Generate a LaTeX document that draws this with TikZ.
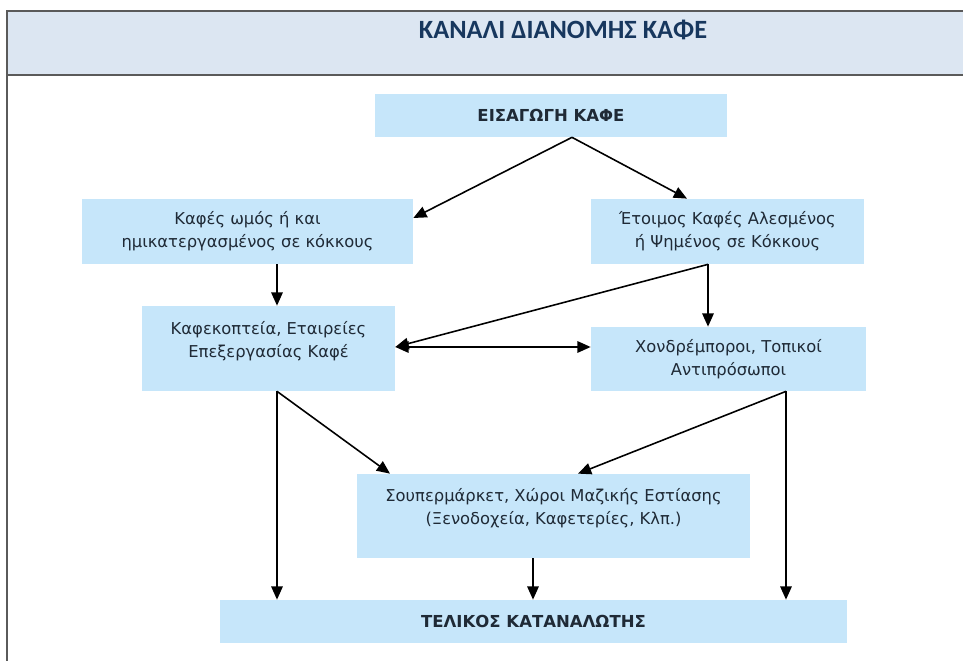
\documentclass[tikz,border=0pt]{standalone}
\usepackage{fontspec}
\setmainfont{DejaVu Sans}
\newfontfamily\titlefont{Carlito}
\usetikzlibrary{arrows.meta}
\definecolor{headblue}{HTML}{DCE6F2}
\definecolor{boxblue}{HTML}{C6E6FA}
\definecolor{titleblue}{HTML}{17375E}
\definecolor{inktext}{HTML}{1F2A36}
\definecolor{framegray}{HTML}{5A5A5A}
\begin{document}
\begin{tikzpicture}[x=0.02cm, y=-0.02cm,
  txt/.style={inner sep=0pt, align=center, text=inktext, font=\fontsize{9.3}{13}\selectfont},
  box/.style={txt, fill=boxblue},
  boxw/.style={minimum width=#1*0.02cm},
  boxh/.style={minimum height=#1*0.02cm},
  bold/.style={font=\fontsize{9.4}{13}\selectfont\bfseries},
  arr/.style={-{Triangle[length=7.5pt,width=6.5pt]}, line width=0.9pt, draw=black},
  dbl/.style={{Triangle[length=7.5pt,width=6.5pt]}-{Triangle[length=7.5pt,width=6.5pt]}, line width=0.9pt, draw=black},
  frame/.style={draw=framegray, line width=1.1pt}]
\useasboundingbox (0,0) rectangle (963,661);
% header band
\fill[headblue] (7,11) rectangle (963,75);
\draw[frame] (963,11) -- (7,11) -- (7,661);
\draw[frame] (7,75) -- (963,75);
\node[text=titleblue, font=\titlefont\bfseries\fontsize{15}{17}\selectfont] (title) at (563,30) {ΚΑΝΑΛΙ ΔΙΑΝΟΜΗΣ ΚΑΦΕ};
% boxes
\node[box, bold, boxw=352, boxh=43] (imp) at (551,115.5) {ΕΙΣΑΓΩΓΗ ΚΑΦΕ};
\node[box, boxw=331, boxh=65] (raw) at (247.5,231.5) {Καφές ωμός ή και\\ημικατεργασμένος σε κόκκους};
\node[box, boxw=273, boxh=65] (ready) at (727.5,231.5) {Έτοιμος Καφές Αλεσμένος\\ή Ψημένος σε Κόκκους};
\node[box, boxw=253, boxh=85] (roast) at (268.5,348.5) {};
\node[txt] (roasttxt) at (268.5,341.5) {Καφεκοπτεία, Εταιρείες\\Επεξεργασίας Καφέ};
\node[box, boxw=275, boxh=64] (whole) at (728.5,359) {Χονδρέμποροι, Τοπικοί\\Αντιπρόσωποι};
\node[box, boxw=393, boxh=84] (super) at (553.5,516) {};
\node[txt] (supertxt) at (553.5,508.5) {Σουπερμάρκετ, Χώροι Μαζικής Εστίασης\\(Ξενοδοχεία, Καφετερίες, Κλπ.)};
\node[box, bold, boxw=627, boxh=43] (cons) at (533.5,621.5) {ΤΕΛΙΚΟΣ ΚΑΤΑΝΑΛΩΤΗΣ};
% columns and rows where the arrows meet the boxes
\coordinate (cA) at (277,0);
\coordinate (cB) at (708,0);
\coordinate (cC) at (786,0);
\coordinate (cD) at (533,0);
\coordinate (cE) at (390,0);
\coordinate (cF) at (578,0);
\coordinate (cG) at (572,0);
\coordinate (cH) at (687,0);
\coordinate (rA) at (0,218);
\coordinate (rB) at (0,347);
% arrows
\draw [arr] (imp.south -| cG) -- (raw.east |- rA);
\draw [arr] (imp.south -| cG) -- (ready.north -| cH);
\draw [arr] (raw.south -| cA) -- (roast.north -| cA);
\draw [arr] (ready.south -| cB) -- (whole.north -| cB);
\draw [arr] (ready.south -| cB) -- (roast.east |- rB);
\draw [dbl] (roast.east |- rB) -- (whole.west |- rB);
\draw [arr] (roast.south -| cA) -- (cons.north -| cA);
\draw [arr] (roast.south -| cA) -- (super.north -| cE);
\draw [arr] (whole.south -| cC) -- (super.north -| cF);
\draw [arr] (whole.south -| cC) -- (cons.north -| cC);
\draw [arr] (super.south -| cD) -- (cons.north -| cD);
\end{tikzpicture}
\end{document}
